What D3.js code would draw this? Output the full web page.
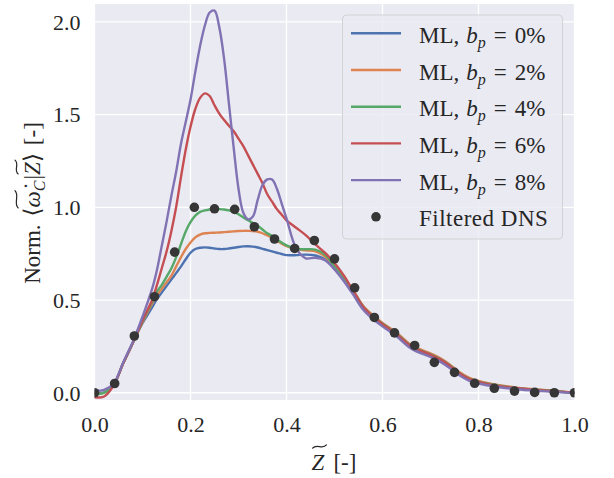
<!DOCTYPE html>
<html>
<head>
<meta charset="utf-8">
<script src="https://cdn.jsdelivr.net/npm/d3@7"></script>
<style>
  html, body { margin: 0; padding: 0; background: #ffffff; }
  svg { display: block; }
  text { font-family: "Liberation Serif", "DejaVu Serif", serif; fill: #262626; }
</style>
</head>
<body>
<svg id="chart" width="614" height="478"></svg>
<script>
// Mixture-fraction sample points shared by every model curve
const zGrid = [0, 0.02, 0.04, 0.06, 0.08, 0.10, 0.12, 0.13, 0.14, 0.15, 0.16, 0.17, 0.18, 0.19,
  0.20, 0.21, 0.22, 0.23, 0.24, 0.25, 0.26, 0.27, 0.28, 0.29, 0.30, 0.31, 0.32, 0.33, 0.34,
  0.35, 0.36, 0.37, 0.38, 0.39, 0.40, 0.42, 0.44, 0.46, 0.48, 0.50, 0.52, 0.54, 0.56, 0.58,
  0.60, 0.63, 0.66, 0.70, 0.72, 0.74, 0.76, 0.78, 0.80, 0.84, 0.88, 0.92, 0.96, 1.00];

// ML predictions, one list per b_p level
const ml0 = [0.000, 0.002, 0.045, 0.160, 0.270, 0.375, 0.460, 0.505, 0.540, 0.575, 0.610, 0.645, 0.680, 0.720,
  0.755, 0.775, 0.782, 0.784, 0.782, 0.778, 0.775, 0.775, 0.778, 0.782, 0.786, 0.789, 0.790, 0.788, 0.783,
  0.776, 0.769, 0.762, 0.755, 0.748, 0.742, 0.742, 0.745, 0.740, 0.720, 0.670, 0.605, 0.535, 0.455, 0.405,
  0.365, 0.310, 0.245, 0.200, 0.176, 0.142, 0.102, 0.073, 0.056, 0.036, 0.023, 0.014, 0.007, 0.000];
const ml2 = [-0.005, 0.000, 0.045, 0.160, 0.270, 0.380, 0.480, 0.525, 0.560, 0.595, 0.630, 0.680, 0.730, 0.775,
  0.810, 0.838, 0.853, 0.860, 0.862, 0.863, 0.864, 0.866, 0.868, 0.870, 0.872, 0.873, 0.873, 0.872, 0.868,
  0.860, 0.848, 0.835, 0.820, 0.803, 0.790, 0.775, 0.768, 0.762, 0.735, 0.680, 0.615, 0.548, 0.468, 0.418,
  0.377, 0.322, 0.257, 0.212, 0.187, 0.153, 0.112, 0.082, 0.064, 0.042, 0.028, 0.018, 0.010, 0.001];
const ml4 = [-0.010, 0.000, 0.045, 0.160, 0.270, 0.385, 0.490, 0.545, 0.580, 0.625, 0.670, 0.730, 0.800, 0.870,
  0.920, 0.955, 0.975, 0.983, 0.988, 0.990, 0.990, 0.988, 0.983, 0.975, 0.962, 0.945, 0.930, 0.915, 0.900,
  0.880, 0.860, 0.845, 0.825, 0.810, 0.795, 0.776, 0.774, 0.772, 0.745, 0.680, 0.610, 0.543, 0.463, 0.413,
  0.372, 0.317, 0.252, 0.207, 0.182, 0.148, 0.107, 0.077, 0.060, 0.039, 0.025, 0.016, 0.009, 0.000];
const ml6 = [-0.025, -0.020, 0.040, 0.160, 0.270, 0.390, 0.500, 0.580, 0.670, 0.760, 0.870, 1.000, 1.160, 1.310,
  1.434, 1.530, 1.590, 1.614, 1.600, 1.550, 1.505, 1.470, 1.440, 1.410, 1.370, 1.330, 1.280, 1.230, 1.180,
  1.130, 1.070, 1.030, 0.990, 0.960, 0.930, 0.890, 0.850, 0.800, 0.755, 0.700, 0.630, 0.545, 0.462, 0.410,
  0.370, 0.315, 0.250, 0.205, 0.180, 0.146, 0.105, 0.075, 0.058, 0.037, 0.024, 0.015, 0.008, 0.000];
const ml8 = [0.010, 0.015, 0.050, 0.165, 0.275, 0.410, 0.560, 0.661, 0.790, 0.920, 1.060, 1.190, 1.340, 1.460,
  1.580, 1.730, 1.870, 1.980, 2.050, 2.060, 1.970, 1.800, 1.560, 1.320, 1.100, 0.970, 0.935, 0.950, 1.040,
  1.120, 1.150, 1.150, 1.100, 1.020, 0.940, 0.780, 0.725, 0.728, 0.715, 0.665, 0.600, 0.525, 0.447, 0.397,
  0.358, 0.303, 0.238, 0.193, 0.168, 0.134, 0.094, 0.066, 0.050, 0.031, 0.019, 0.011, 0.005, -0.002];

// Filtered DNS reference samples
const dnsZ = [0.000, 0.042, 0.083, 0.125, 0.167, 0.208, 0.250, 0.292, 0.333, 0.375, 0.417, 0.458, 0.500,
  0.542, 0.583, 0.625, 0.667, 0.708, 0.750, 0.792, 0.833, 0.875, 0.917, 0.958, 1.000];
const dnsVal = [0.000, 0.050, 0.306, 0.518, 0.758, 1.000, 0.992, 0.989, 0.895, 0.829, 0.778, 0.821, 0.722,
  0.566, 0.406, 0.323, 0.255, 0.164, 0.110, 0.051, 0.024, 0.009, 0.002, 0.000, 0.000];

const seriesPct = ["0%", "2%", "4%", "6%", "8%"];
const seriesValues = [ml0, ml2, ml4, ml6, ml8];
const seriesColors = ["#4c72b0", "#dd8452", "#55a868", "#c44e52", "#8172b3"];

const xTicks = [0, 0.2, 0.4, 0.6, 0.8, 1.0];
const yTicks = [0, 0.5, 1.0, 1.5, 2.0];

const svg = d3.select("#chart");
const plot = { left: 94.5, right: 574.5, top: 4, bottom: 400 };

const x = d3.scaleLinear().domain([0, 1]).range([plot.left, plot.right]);
const y = d3.scaleLinear().domain([-0.039, 2.096]).range([plot.bottom, plot.top]);

// background
svg.append("rect")
  .attr("x", plot.left).attr("y", plot.top)
  .attr("width", plot.right - plot.left).attr("height", plot.bottom - plot.top)
  .attr("fill", "#eaeaf2");

svg.append("clipPath").attr("id", "plotClip")
  .append("rect")
  .attr("x", plot.left).attr("y", plot.top)
  .attr("width", plot.right - plot.left).attr("height", plot.bottom - plot.top);

// grid
const grid = svg.append("g");
grid.selectAll("line.gx").data(xTicks).join("line")
  .attr("x1", d => x(d)).attr("x2", d => x(d))
  .attr("y1", plot.top).attr("y2", plot.bottom)
  .attr("stroke", "#ffffff").attr("stroke-width", 1.3);
grid.selectAll("line.gy").data(yTicks).join("line")
  .attr("x1", plot.left).attr("x2", plot.right)
  .attr("y1", d => y(d)).attr("y2", d => y(d))
  .attr("stroke", "#ffffff").attr("stroke-width", 1.3);

// axes (tick labels only)
const xAxis = d3.axisBottom(x).tickValues(xTicks).tickFormat(d3.format(".1f")).tickSize(0).tickPadding(0);
const gx = svg.append("g").attr("transform", `translate(0,${plot.bottom})`).call(xAxis);
gx.select(".domain").remove();
gx.selectAll("text").attr("font-size", 22).attr("font-family", "Liberation Serif")
  .attr("fill", "#262626").attr("y", 32).attr("dy", 0);

const yAxis = d3.axisLeft(y).tickValues(yTicks).tickFormat(d3.format(".1f")).tickSize(0).tickPadding(0);
const gy = svg.append("g").attr("transform", `translate(${plot.left},0)`).call(yAxis);
gy.select(".domain").remove();
gy.selectAll("text").attr("font-size", 22).attr("font-family", "Liberation Serif")
  .attr("fill", "#262626").attr("x", -14).attr("dy", "0.33em");

// model curves
const line = d3.line()
  .x(d => x(d[0])).y(d => y(d[1]))
  .curve(d3.curveCatmullRom.alpha(0.5));

const curves = svg.append("g").attr("clip-path", "url(#plotClip)");
seriesValues.forEach((vals, i) => {
  curves.append("path")
    .datum(zGrid.map((z, k) => [z, vals[k]]))
    .attr("d", line)
    .attr("fill", "none")
    .attr("stroke", seriesColors[i])
    .attr("stroke-width", 2.4)
    .attr("stroke-linejoin", "round")
    .attr("stroke-linecap", "round");
});

// DNS markers
curves.selectAll("circle.dns").data(dnsZ.map((z, k) => [z, dnsVal[k]])).join("circle")
  .attr("cx", d => x(d[0])).attr("cy", d => y(d[1]))
  .attr("r", 4.8).attr("fill", "#363636");

// Lay out a short math-style label piece by piece; pieces flagged "tilde"
// get a wide tilde accent stroked above them.
function mathLabel(parent, pieces, size) {
  const g = parent.append("g");
  let cx = 0;
  pieces.forEach(p => {
    const px = cx + (p.dx || 0);
    const fs = p.size || size;
    const t = g.append("text")
      .attr("x", px).attr("y", p.dy || 0)
      .attr("font-size", fs)
      .attr("font-style", p.italic ? "italic" : "normal")
      .text(p.text);
    const w = t.node().getComputedTextLength();
    if (p.tilde) {
      const x0 = px + (p.tildeShift || 0) - 0.5;
      const tw = w + 1;
      const yc = -size * 1.02;
      g.append("path")
        .attr("d", `M${x0},${yc + 1.6} C${x0 + tw * 0.3},${yc - 3.4} ${x0 + tw * 0.7},${yc + 3.4} ${x0 + tw},${yc - 1.6}`)
        .attr("fill", "none").attr("stroke", "#262626").attr("stroke-width", 1.2)
        .attr("stroke-linecap", "round");
    }
    cx = px + w;
  });
  return { g, width: cx };
}

// x-axis title
const xt = mathLabel(svg, [
  { text: "Z", italic: true, tilde: true, tildeShift: 1.5 },
  { text: "[-]", dx: 9 }
], 23);
xt.g.attr("transform", `translate(${334 - xt.width / 2},470)`);

// y-axis title (rotated)
const yt = mathLabel(svg, [
  { text: "Norm." },
  { text: "\u27e8", dx: 8 },
  { text: "\u03c9\u0307", italic: true, tilde: true },
  { text: "C", italic: true, size: 16, dy: 5 },
  { text: "|", dx: 1 },
  { text: "Z", italic: true, tilde: true, tildeShift: 1.5 },
  { text: "\u27e9" },
  { text: "[-]", dx: 8 }
], 23);
yt.g.attr("transform", `translate(40,${203 + yt.width / 2}) rotate(-90)`);

// legend
const lg = svg.append("g");
lg.append("rect")
  .attr("x", 342.5).attr("y", 15).attr("width", 220).attr("height", 224).attr("rx", 4)
  .attr("fill", "rgba(234,234,242,0.8)")
  .attr("stroke", "rgba(204,204,204,0.8)").attr("stroke-width", 1);

const rowY = i => 33.3 + i * 36.7;
seriesPct.forEach((p, i) => {
  lg.append("line")
    .attr("x1", 351).attr("x2", 401).attr("y1", rowY(i)).attr("y2", rowY(i))
    .attr("stroke", seriesColors[i]).attr("stroke-width", 2.4);
  const t = lg.append("text").attr("x", 419).attr("y", rowY(i) + 9.5).attr("font-size", 23);
  t.append("tspan").text("ML,");
  t.append("tspan").attr("font-style", "italic").attr("dx", 7).text("b");
  t.append("tspan").attr("font-style", "italic").attr("font-size", 16).attr("dy", 5).text("p");
  t.append("tspan").attr("dy", -5).attr("dx", 8).text("=");
  t.append("tspan").attr("dx", 8).text(p);
});
lg.append("circle").attr("cx", 376).attr("cy", rowY(5)).attr("r", 4.8).attr("fill", "#363636");
lg.append("text").attr("x", 419).attr("y", rowY(5) + 9.5).attr("font-size", 23)
  .attr("letter-spacing", 0.5).text("Filtered DNS");
</script>
</body>
</html>
